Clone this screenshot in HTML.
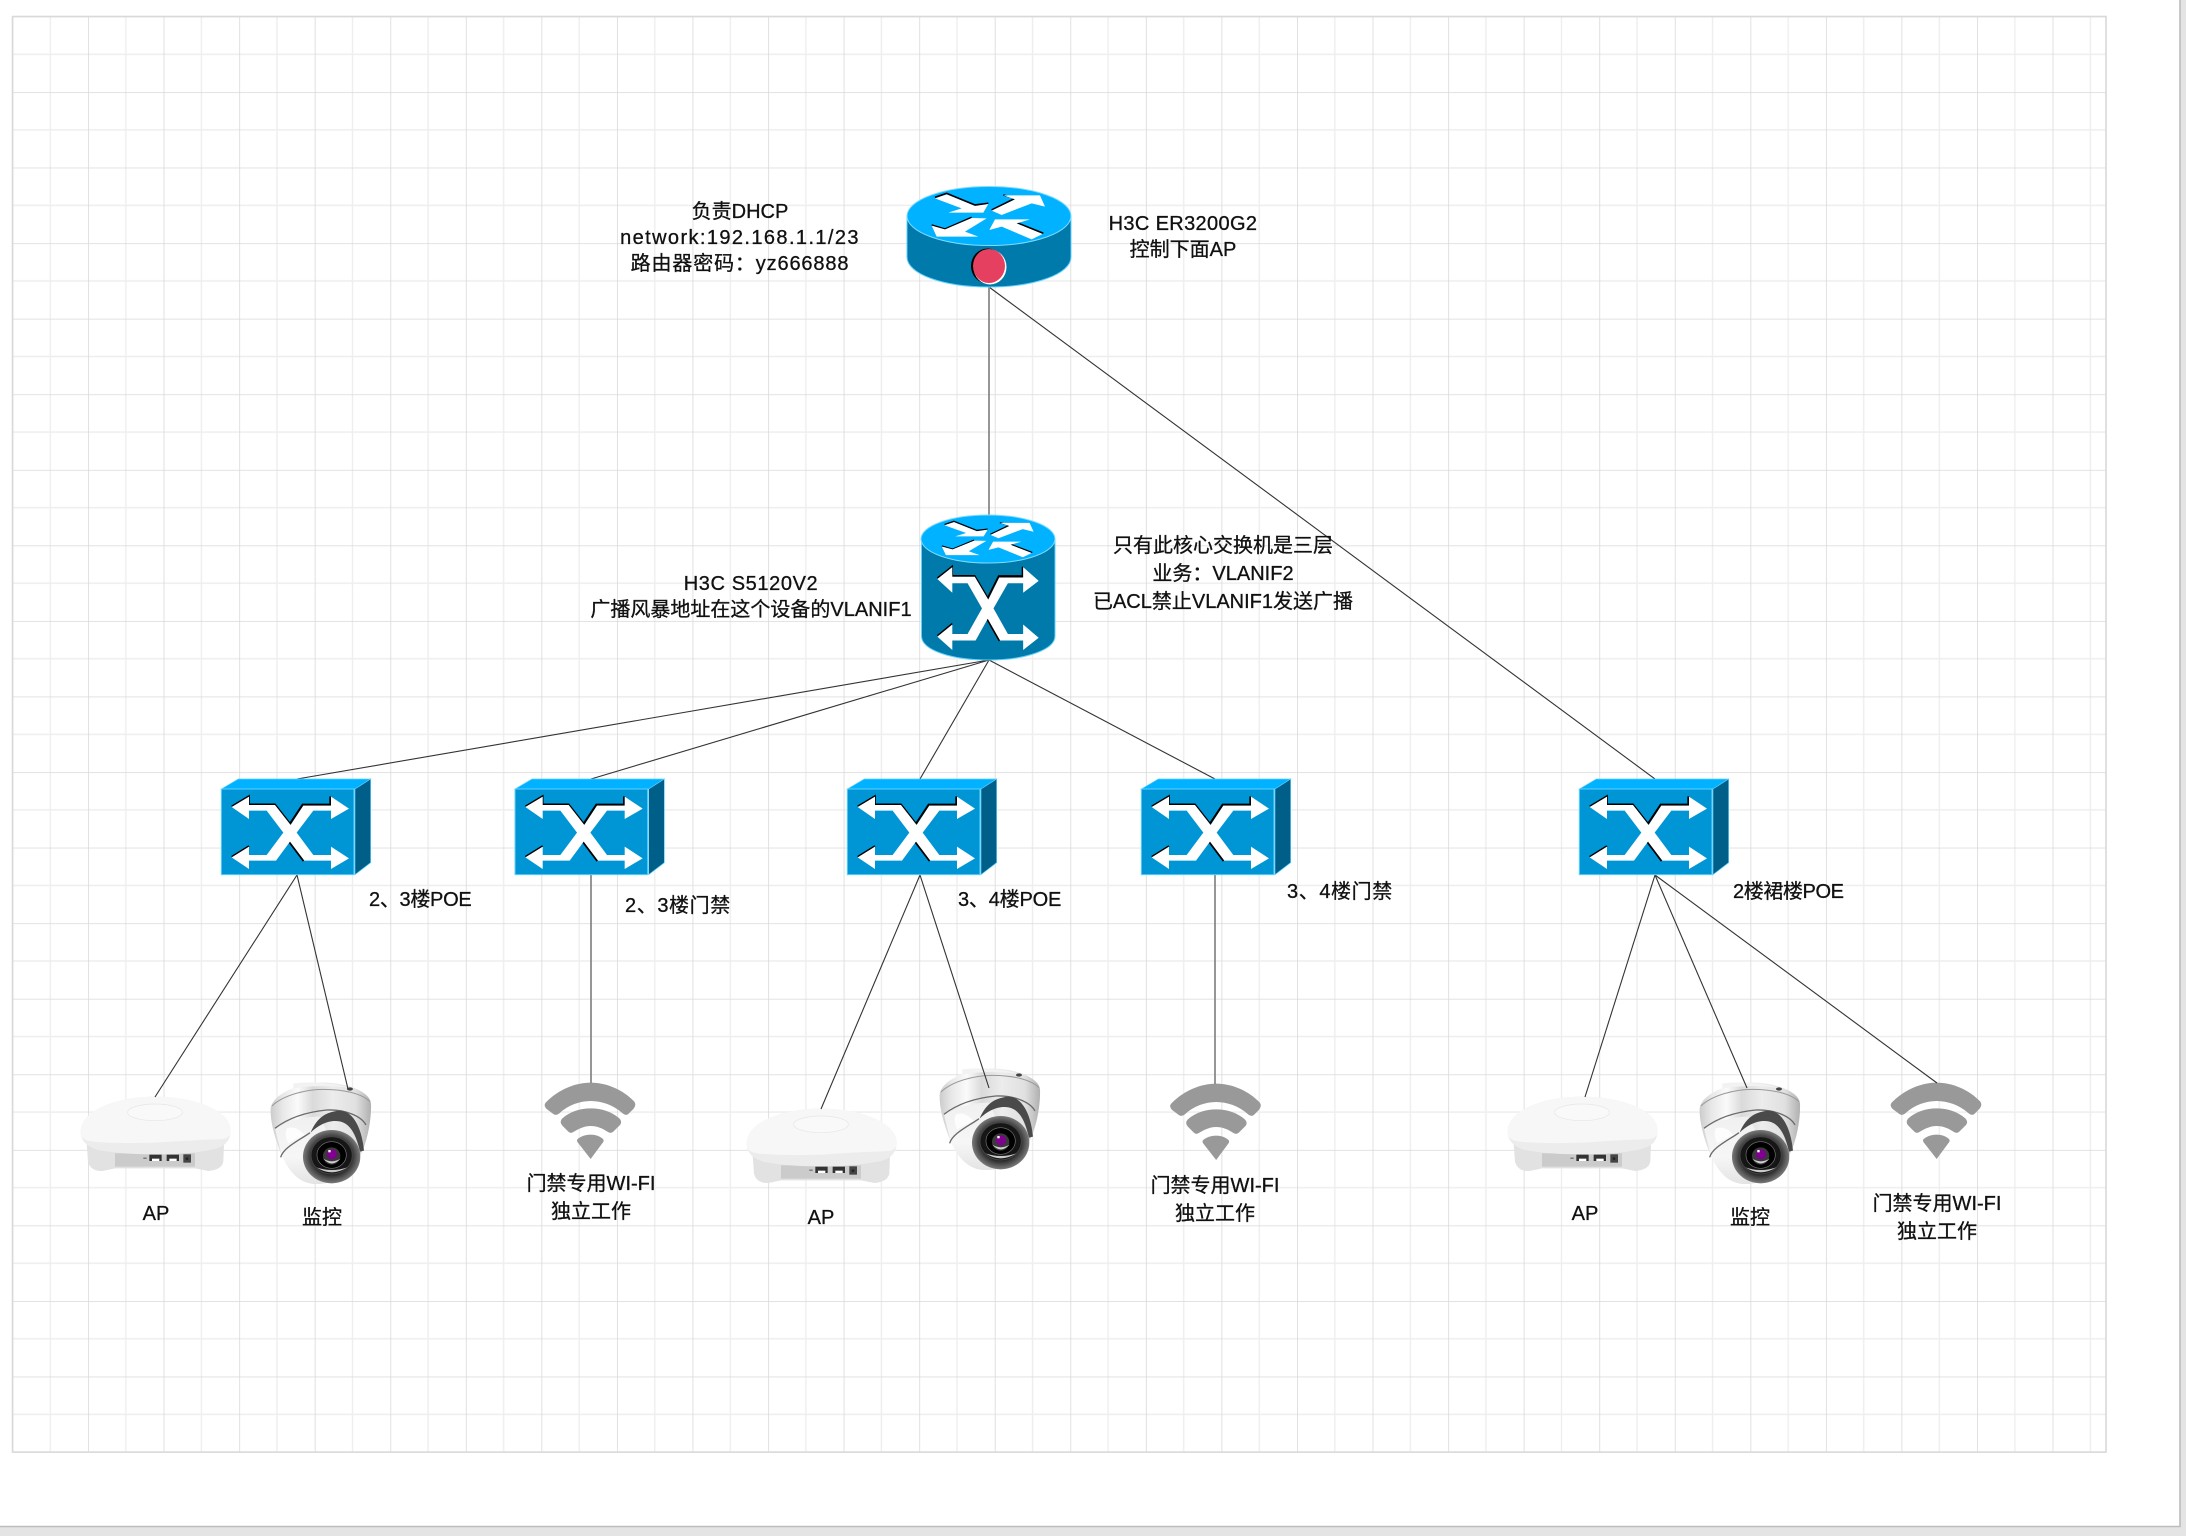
<!DOCTYPE html>
<html lang="zh">
<head>
<meta charset="utf-8">
<title>Network topology</title>
<style>
html,body{margin:0;padding:0;background:#e4e4e4;width:2186px;height:1536px;overflow:hidden}
svg{display:block;position:absolute;left:0;top:0}
text{font-family:"Liberation Sans","Noto Sans CJK SC",sans-serif;font-size:20px;fill:#111;stroke:#111;stroke-width:.3;text-anchor:middle;dominant-baseline:central}
text.l{text-anchor:start}
</style>
</head>
<body>
<svg xmlns="http://www.w3.org/2000/svg" width="2186" height="1536" viewBox="0 0 2186 1536">
<defs>
<pattern id="grid" patternUnits="userSpaceOnUse" x="12.5" y="16.5" width="75.56" height="75.56">
  <path d="M37.78 0V75.56M0 37.78H75.56" stroke="#eeeeee" stroke-width="1.4" fill="none"/>
  <path d="M0 0V75.56M0 0H75.56" stroke="#d9d9d9" stroke-width="1.6" fill="none"/>
</pattern>
<linearGradient id="dome" x1="0" x2="1" y1="0" y2="0">
  <stop offset="0" stop-color="#cccccc"/><stop offset=".12" stop-color="#e8e8e8"/><stop offset=".27" stop-color="#fafafa"/><stop offset=".42" stop-color="#dadada"/><stop offset=".62" stop-color="#ececec"/><stop offset=".85" stop-color="#e0e0e0"/><stop offset="1" stop-color="#b0b0b0"/>
</linearGradient>
<linearGradient id="shell" x1="0" x2="0" y1="0" y2="1">
  <stop offset="0" stop-color="#f0f0f0"/><stop offset=".6" stop-color="#f6f6f6"/><stop offset="1" stop-color="#e4e4e4"/>
</linearGradient>
<radialGradient id="lens" cx=".5" cy=".5" r=".5">
  <stop offset="0" stop-color="#111"/><stop offset=".65" stop-color="#222"/><stop offset=".85" stop-color="#555"/><stop offset="1" stop-color="#7a7a7a"/>
</radialGradient>
<g id="toparrows">
  <polyline points="105,52 140,40 225,75 265,70" fill="none" stroke="#000" stroke-width="5"/>
  <polyline points="275,90 345,55 310,45" fill="none" stroke="#000" stroke-width="5"/>
  <polyline points="95,135 135,147 215,112" fill="none" stroke="#000" stroke-width="5"/>
  <polyline points="350,128 430,160" fill="none" stroke="#000" stroke-width="5"/>
  <polygon fill="#fff" points="105,55 140,43 225,78 265,72 250,98 145,98 185,85"/>
  <polygon fill="#fff" points="275,92 345,58 310,46 420,46 435,80 395,70 305,105"/>
  <polygon fill="#fff" points="95,137 135,148 215,114 260,115 195,155 235,170 110,170"/>
  <polygon fill="#fff" points="268,150 285,118 390,118 350,130 428,162 395,178 305,140"/>
</g>
<g id="xarrows">
  <polyline points="95,141 147,110 147,135 225,135 272,195" fill="none" stroke="#000" stroke-width="5" transform="translate(0,-2)"/>
  <polyline points="272,192 310,135 393,135 393,110" fill="none" stroke="#000" stroke-width="6" transform="translate(-2,-1)"/>
  <polyline points="95,292 147,260" fill="none" stroke="#000" stroke-width="5" transform="translate(0,-2)"/>
  <polyline points="270,245 313,302" fill="none" stroke="#000" stroke-width="6" transform="translate(-2,1)"/>
  <polygon fill="#fff" points="95,141 147,110 147,135 225,135 272,195 310,137 393,137 393,110 447,146 393,177 393,152 340,152 290,218 340,285 393,285 393,260 447,295 393,327 393,302 313,302 270,245 228,302 147,302 147,327 95,292 147,260 147,285 200,285 250,218 200,152 147,152 147,177"/>
</g>
<g id="switch">
  <polygon points="64,87 115,57 512,57 465,87" fill="#00b2ff" stroke="#5fd0ff" stroke-width="2"/>
  <polygon points="465,87 512,57 512,308 465,344" fill="#005f88" stroke="#5fd0ff" stroke-width="2"/>
  <rect x="64" y="87" width="398" height="257" fill="#0096d6" stroke="#5fd0ff" stroke-width="3"/>
  <use href="#xarrows"/>
</g>
<g id="ap">
  <path d="M80,250 L84,305 Q92,335 128,333 L165,325 H405 L445,333 Q485,330 490,305 L492,250Z" fill="#e2e2e2"/>
  <rect x="165" y="280" width="240" height="40" fill="#cbcbcb"/>
  <path d="M62,215 C62,150 170,110 285,110 C400,110 512,150 512,212 C512,245 490,262 460,268 C380,283 330,283 285,283 C220,283 170,280 115,270 C85,262 62,245 62,215Z" fill="#ececec"/>
  <path d="M62,215 C62,150 170,110 285,110 C400,110 512,150 512,212 C512,235 495,238 470,238 C400,240 330,245 285,248 C220,250 150,250 100,245 C75,242 62,235 62,215Z" fill="#f7f7f7"/>
  <ellipse cx="285" cy="157" rx="82" ry="25" fill="#f9f9f9" stroke="#e6e6e6" stroke-width="2"/>
  <rect x="250" y="293" width="10" height="3" fill="#555"/>
  <rect x="268" y="284" width="37" height="19" fill="#333"/><rect x="276" y="296" width="22" height="7" fill="#fff"/>
  <rect x="320" y="284" width="37" height="19" fill="#333"/><rect x="328" y="296" width="22" height="7" fill="#fff"/>
  <rect x="370" y="283" width="23" height="25" fill="#444"/><circle cx="381" cy="296" r="4" fill="#222"/>
</g>
<g id="camera">
  <path d="M632,145 C640,100 720,68 790,68 C860,68 930,95 933,130 C935,170 925,230 910,265 C880,340 830,372 770,372 C720,372 690,340 665,285 C650,250 630,190 632,145Z" fill="url(#dome)"/>
  <path d="M645,205 L665,285 C690,340 720,372 770,372 C800,372 830,360 860,340 L780,170 C730,170 680,185 645,205Z" fill="url(#shell)"/>
  <path d="M680,205 Q700,198 720,212 L735,225 Q700,240 685,250 Q672,225 680,205Z" fill="#fff" opacity=".8"/>
  <path d="M636,138 C670,105 740,88 790,88 C850,88 905,100 930,125" fill="none" stroke="#999" stroke-width="3"/>
  <path d="M700,70 Q790,60 880,85 Q790,72 700,85Z" fill="#f2f2f2"/>
  <ellipse cx="870" cy="87" rx="9" ry="5" fill="#444"/>
  <path d="M645,205 C690,170 750,155 800,150 C860,148 905,170 918,195" fill="none" stroke="#6a6a6a" stroke-width="4"/>
  <path d="M662,292 C670,262 720,240 750,218" fill="none" stroke="#6a6a6a" stroke-width="4"/>
  <path d="M752,218 C768,180 792,155 840,152 C880,154 906,205 912,272 L900,275 C892,240 880,205 855,190 C820,172 778,192 752,218Z" fill="#4a4a4a"/>
  <ellipse cx="815" cy="290" rx="86" ry="80" fill="url(#lens)"/>
  <ellipse cx="815" cy="286" rx="62" ry="56" fill="#161616" stroke="#444" stroke-width="3"/>
  <ellipse cx="815" cy="285" rx="44" ry="40" fill="#000" stroke="#777" stroke-width="2"/>
  <ellipse cx="815" cy="288" rx="26" ry="26" fill="#3a3a3a"/>
  <path d="M770,322 Q815,352 862,322 Q815,338 770,322Z" fill="#c8c8c8"/>
  <path d="M790,296 Q815,325 842,296 Q815,312 790,296Z" fill="#d0d0d0"/>
  <circle cx="816" cy="283" r="15" fill="#800090"/>
  <rect x="805" y="270" width="7" height="7" fill="#fff"/>
</g>
<g id="wifi" fill="#999999">
  <path d="M140,125 C175,90 225,68 272,68 C320,68 370,90 403,125 Q410,135 400,147 L385,162 Q378,168 368,160 C340,135 305,123 272,123 C240,123 205,135 178,160 Q168,168 160,162 L140,147 Q128,135 140,125Z"/>
  <path d="M187,175 C210,155 240,145 272,145 C305,145 335,155 358,175 Q368,185 360,195 L340,215 Q332,222 322,215 C308,205 290,198 272,198 C255,198 238,205 222,215 Q212,222 205,215 L187,197 Q177,185 187,175Z"/>
  <path d="M233,237 C245,228 258,224 272,224 C286,224 298,228 309,237 Q313,241 309,247 L272,297 L233,247 Q229,241 233,237Z"/>
</g>
</defs>

<rect x="0" y="0" width="2180" height="1526" fill="#fff"/>
<path d="M2180 0V1526.5H0" fill="none" stroke="#bdbdbd" stroke-width="1.6"/>

<!-- grid -->
<rect x="12.5" y="16.5" width="2093.5" height="1435.6" fill="url(#grid)"/>
<rect x="12.5" y="16.5" width="2093.5" height="1435.6" fill="none" stroke="#d9d9d9" stroke-width="1.6"/>

<!-- images under the connectors -->
<g transform="translate(60,1060) scale(.3333)"><use href="#ap"/></g>
<g transform="translate(726,1072) scale(.3333)"><use href="#ap"/></g>
<g transform="translate(1487,1060) scale(.3333)"><use href="#ap"/></g>
<g transform="translate(60,1060) scale(.3333)"><use href="#camera"/></g>
<g transform="translate(729,1046) scale(.3333)"><use href="#camera"/></g>
<g transform="translate(1489,1060) scale(.3333)"><use href="#camera"/></g>
<g transform="translate(500,1060) scale(.3333)"><use href="#wifi"/></g>
<g transform="translate(1125.5,1061) scale(.3333)"><use href="#wifi"/></g>
<g transform="translate(1846,1060) scale(.3333)"><use href="#wifi"/></g>

<!-- connectors -->
<g fill="none" stroke="#333" stroke-width="1.1">
  <line x1="989" y1="287" x2="1655" y2="779"/>
  <line x1="989" y1="660" x2="297" y2="779"/>
  <line x1="989" y1="660" x2="591" y2="779"/>
  <line x1="989" y1="660" x2="920" y2="779"/>
  <line x1="989" y1="660" x2="1215" y2="779"/>
  <line x1="297" y1="875" x2="155" y2="1097"/>
  <line x1="297" y1="875" x2="348" y2="1089"/>
  <line x1="920" y1="875" x2="821" y2="1109"/>
  <line x1="920" y1="875" x2="989" y2="1088"/>
  <line x1="1655" y1="875" x2="1585" y2="1097"/>
  <line x1="1655" y1="875" x2="1747" y2="1088"/>
  <line x1="1655" y1="875" x2="1937" y2="1083"/>
</g>
<g stroke="#8a8a8a" stroke-width="1.8">
  <line x1="989" y1="287" x2="989" y2="516"/>
  <line x1="591" y1="875" x2="591" y2="1083"/>
  <line x1="1215" y1="875" x2="1215" y2="1084"/>
</g>

<!-- router -->
<path d="M907,216 V257 C907,274 943,287 989,287 C1035,287 1071,274 1071,257 V216Z" fill="#0079ab" stroke="#5fd0ff" stroke-width="1"/>
<ellipse cx="989" cy="216" rx="82" ry="29.5" fill="#00b2ff" stroke="#7fdcff" stroke-width="1"/>
<g transform="translate(900,180) scale(.3333)"><use href="#toparrows"/></g>
<ellipse cx="987.5" cy="266" rx="16.5" ry="17.5" fill="#000"/>
<ellipse cx="990" cy="267" rx="16.5" ry="17.5" fill="#fff"/>
<ellipse cx="989" cy="266" rx="16" ry="17" fill="#e64060"/>

<!-- core switch -->
<path d="M921.5,539 V636 C921.5,650 951,660 988,660 C1025,660 1055,650 1055,636 V539Z" fill="#0079ab" stroke="#5fd0ff" stroke-width="1"/>
<ellipse cx="988" cy="539" rx="67" ry="24" fill="#00b2ff" stroke="#7fdcff" stroke-width="1"/>
<g transform="translate(910,505) scale(.3333)">
  <g transform="matrix(.81,0,0,.78,18.5,17.8)"><use href="#toparrows"/></g>
  <g transform="matrix(.864,0,0,1.146,-.08,60.4)"><use href="#xarrows"/></g>
</g>

<!-- access switches -->
<g transform="translate(200,760) scale(.3333)"><use href="#switch"/></g>
<g transform="translate(493.7,760) scale(.3333)"><use href="#switch"/></g>
<g transform="translate(826,760) scale(.3333)"><use href="#switch"/></g>
<g transform="translate(1120,760) scale(.3333)"><use href="#switch"/></g>
<g transform="translate(1558,760) scale(.3333)"><use href="#switch"/></g>

<!-- labels -->
<g transform="translate(0,1.2)">
<text x="740" y="211">负责DHCP</text>
<text x="740" y="237" letter-spacing="1.4">network:192.168.1.1/23</text>
<text x="740" y="263" letter-spacing=".85">路由器密码：yz666888</text>
<text x="1183" y="223" letter-spacing=".35">H3C ER3200G2</text>
<text x="1183" y="249">控制下面AP</text>
<text x="751" y="583" letter-spacing=".6">H3C S5120V2</text>
<text x="751" y="609">广播风暴地址在这个设备的VLANIF1</text>
<text x="1223" y="545">只有此核心交换机是三层</text>
<text x="1223" y="573">业务：VLANIF2</text>
<text x="1223" y="601">已ACL禁止VLANIF1发送广播</text>
<text class="l" x="369" y="899" letter-spacing="-.3">2、3楼POE</text>
<text class="l" x="625" y="905" letter-spacing=".6">2、3楼门禁</text>
<text class="l" x="958" y="899" letter-spacing="-.2">3、4楼POE</text>
<text class="l" x="1287" y="891" letter-spacing=".6">3、4楼门禁</text>
<text class="l" x="1733" y="891" letter-spacing="-.4">2楼裙楼POE</text>
<text x="156" y="1213">AP</text>
<text x="322" y="1217">监控</text>
<text x="591" y="1183">门禁专用WI-FI</text>
<text x="591" y="1211">独立工作</text>
<text x="821" y="1217">AP</text>
<text x="1215" y="1185">门禁专用WI-FI</text>
<text x="1215" y="1213">独立工作</text>
<text x="1585" y="1213">AP</text>
<text x="1750" y="1217">监控</text>
<text x="1937" y="1203">门禁专用WI-FI</text>
<text x="1937" y="1231">独立工作</text>
</g>
</svg>
</body>
</html>
